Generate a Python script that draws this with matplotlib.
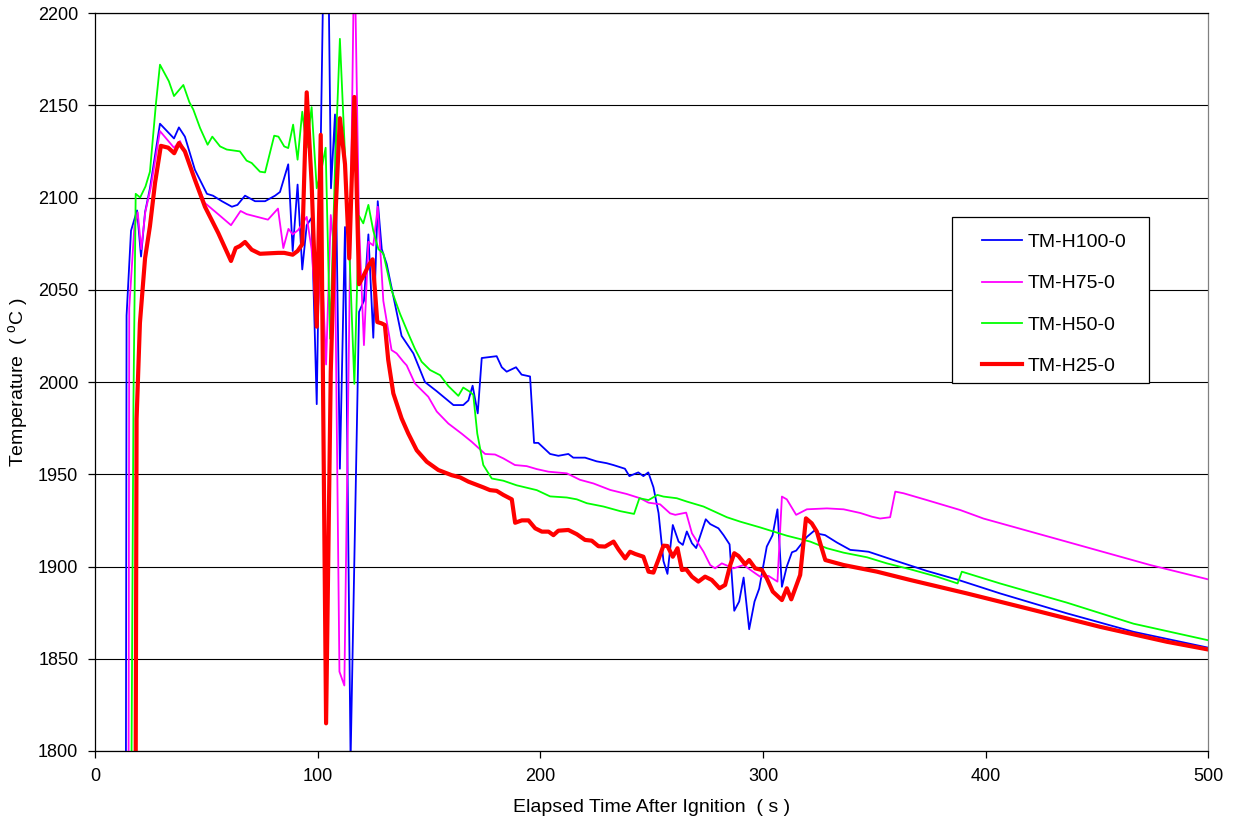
import matplotlib
matplotlib.use('Agg')
import matplotlib.pyplot as plt
from matplotlib.patches import Rectangle
from matplotlib.ticker import MultipleLocator

plt.rcParams['font.family'] = ['Liberation Sans', 'DejaVu Sans']
plt.rcParams['mathtext.fontset'] = 'custom'
plt.rcParams['mathtext.rm'] = 'Liberation Sans'

# Thermocouple readings, time in s and temperature in degC
t_h100 = [13.8, 14.2, 16.2, 18.9, 20.7, 22.5, 24.7, 29.2, 35.5, 37.7, 40.4, 44.9, 50.3, 53, 57,
          61.5, 64, 67.4, 71.9, 76.4, 80.9, 83.1, 86.8, 88.8, 91, 93.1, 95.1, 97.3, 99.6, 103.9,
          106, 107.8, 110, 112.3, 114.8, 118.6, 120.8, 122.8, 125, 127, 128.8, 131, 137.7, 143,
          148.2, 153.5, 161, 165.4, 167.7, 169.6, 171.9, 173.7, 180.4, 182.7, 184.9, 189.1, 191.6,
          195.4, 197.2, 199.1, 204.4, 208.1, 212.6, 214.8, 220.1, 225.3, 229.8, 232.8, 238, 240,
          244, 246.3, 248.5, 250.8, 253.1, 255.3, 257.1, 259.5, 262.1, 264, 265.8, 268.1, 270,
          274.3, 276.3, 280, 282.3, 285, 287.1, 289.3, 291.3, 293.8, 296.2, 298.3, 301.7, 304.3,
          306.5, 308.5, 310.7, 313, 314.9, 319.7, 323, 325.4, 327.9, 333.2, 339.2, 342.9, 347.4,
          358.6, 373.6, 387.8, 406.5, 436.5, 466.4, 500]
T_h100 = [1700, 2036, 2082, 2093, 2068, 2092, 2105, 2140, 2132, 2138, 2133, 2115, 2102, 2101, 2098,
          2095, 2096, 2101, 2098, 2098, 2101, 2103, 2118, 2071, 2107, 2061, 2085, 2089, 1988, 2325,
          2105, 2145, 1953, 2084, 1795, 2038, 2044, 2080, 2024, 2098, 2072, 2064, 2025, 2015.5,
          2000, 1995, 1987.5, 1987.5, 1990, 1998, 1983, 2013, 2014, 2008, 2005.6, 2008, 2004,
          2003, 1967, 1967, 1961, 1960, 1961, 1959, 1959, 1957, 1956, 1955, 1953, 1949,
          1951, 1949, 1951, 1943, 1929, 1903, 1896, 1922.5, 1913.5, 1911.7, 1919, 1912.6, 1910,
          1925.6, 1923, 1920.7, 1917, 1912, 1876, 1881, 1894, 1866, 1881, 1888, 1910.8, 1917,
          1931, 1889, 1900, 1907.7, 1908.6, 1916, 1919.4, 1917.6, 1917, 1913, 1909, 1908.6, 1908,
          1903.5, 1897.6, 1892.7, 1885.4, 1874.6, 1864.6, 1856]

t_h75 = [15.0, 15.4, 17.7, 19.2, 20.8, 22.6, 25, 29.2, 35.5, 38.2, 43.4, 49.4, 55.3, 61.1, 65.4,
         68.1, 77.7, 82.2, 84.6, 86.9, 88.8, 91.3, 95.1, 97.3, 99.6, 101.8, 103.8, 105.9, 107.8,
         109.8, 112, 116.5, 118.6, 120.8, 122.8, 125, 127, 129.5, 133.2, 135.5, 138.5, 140,
         143.7, 146.7, 149.7, 153.5, 158.7, 164.7, 169.2, 175.2, 179.7, 183.4, 188.6, 193.9,
         198.4, 203.6, 211.9, 217.8, 223.9, 231.4, 238.8, 244.8, 248.6, 253.8, 258.3, 260.6,
         265.5, 268.1, 273.3, 276.3, 278.5, 281.5, 286.8, 291.3, 295.7, 298.7, 302.5, 306.5,
         308.5, 310.7, 314.9, 319.7, 328.7, 336.2, 343.7, 348.9, 352.6, 357.1, 359.4, 363.1,
         373.6, 388.6, 399, 436.5, 473.9, 500]
T_h75 = [1700, 2040, 2084, 2092, 2072, 2092, 2105, 2136, 2127, 2130.6, 2115, 2097, 2091, 2085, 2092.7,
         2091, 2088, 2094, 2072.6, 2083, 2080, 2082.4, 2089.5, 2072, 2031, 2067, 2009.5, 2090.5, 2067,
         1843, 1835.5, 2240, 2085, 2020, 2076, 2074, 2095, 2044, 2017.3, 2015.5, 2011, 2009,
         1999.2, 1995.6, 1992, 1984, 1977.5, 1972, 1967.6, 1961, 1960.7, 1958.6, 1955, 1954.4,
         1952.8, 1951.4, 1950.5, 1947, 1945, 1941.5, 1939.3, 1937, 1934.6, 1933.7, 1928.8, 1928,
         1929.2, 1918, 1908, 1900.8, 1899, 1901.7, 1899, 1900.8, 1897, 1894.5, 1894.9, 1891.8,
         1937.9, 1936.4, 1928, 1931, 1931.5, 1931, 1929, 1927, 1926, 1926.7, 1940.6, 1939.7,
         1936, 1930.6, 1926, 1913.4, 1900.8, 1893]

t_h50 = [16.0, 17.3, 18.3, 20.3, 22.7, 24.7, 27.4, 29.2, 33.2, 35.5, 39.7, 42.4, 44.2, 47.2, 50.6,
         52.7, 56.2, 59.2, 65.1, 68.1, 70.4, 74.1, 76.4, 80.5, 82.4, 85, 86.8, 89, 91, 93.1, 95.1,
         97.3, 99.6, 101.8, 103.6, 105.6, 107.8, 110, 112.3, 114.5, 116.5, 118.6, 120.5, 122.8,
         125, 127.3, 129.5, 133.2, 137, 140.7, 143.7, 146.7, 150.5, 155, 158.7, 163.2, 165.4,
         168.4, 169.9, 171.7, 174.4, 178.2, 183.4, 189.4, 198.4, 204.4, 211.9, 216.4, 220.9,
         228.4, 235.9, 242.1, 244.5, 248.6, 252.6, 255.3, 261.3, 265.8, 273.3, 283.8, 289.8,
         298.7, 310.7, 321.2, 328.7, 336.2, 346.7, 355.6, 366.1, 378.1, 387.4, 389.3, 406.5,
         436.5, 466.4, 500]
T_h50 = [1700, 1990, 2102, 2100, 2106, 2114, 2151, 2172, 2163, 2155, 2161, 2151.7, 2147.6, 2137.7, 2128.6,
         2133, 2127.7, 2126, 2125, 2120, 2118.7, 2114, 2113.6, 2133.5, 2133, 2127.7, 2126.8, 2139.5,
         2120.5, 2146.5, 2127, 2149, 2105, 2115.6, 2127, 2023.5, 2115.6, 2186, 2123, 2063, 1999,
         2090, 2086, 2096, 2082, 2072, 2069.7, 2049.8, 2037, 2026.3, 2018, 2011, 2006.5, 2003.7,
         1997.8, 1992.5, 1997, 1994.7, 1993, 1972, 1955, 1947.7, 1946.5, 1944, 1941.4, 1938,
         1937.4, 1936.4, 1934.3, 1932.5, 1930, 1928.5, 1937, 1936, 1938.8, 1937.9, 1937, 1935.2,
         1932.5, 1926.7, 1924.3, 1921.2, 1916.7, 1913.5, 1909.9, 1907.5, 1905, 1901.7, 1898.5,
         1894.5, 1890.8, 1897.2, 1890.8, 1880.4, 1869, 1860]

t_h25 = [18.1, 18.7, 20.2, 22.5, 24.7, 27, 29.6, 32.9, 35.6, 37.7, 40.4, 44.9, 49.4, 55.4, 61.1,
         63.2, 65.1, 67.4, 70.4, 74.1, 82.3, 85, 88.8, 91, 93.1, 95.1, 97.3, 99.6, 101.4, 103.8,
         105.9, 107.8, 110, 112.3, 114.2, 116.5, 118.6, 120.8, 122.8, 124.7, 126.8, 128.7, 130.2,
         131.7, 134, 137.7, 140.7, 144.5, 149, 154.2, 160.2, 164, 167.7, 174.4, 177.4, 180.4,
         183.4, 187.2, 188.7, 191.7, 194.7, 197.7, 200.7, 203.7, 205.9, 208.1, 212.6, 216.4,
         220.1, 223.1, 226.1, 229.1, 232.9, 235.1, 238.1, 240.3, 242.6, 246.3, 248.6, 250.8,
         253.1, 255.3, 257.1, 259.5, 261.6, 263.6, 265.5, 268.1, 271, 274, 277, 280.5, 283,
         285.3, 287.1, 289, 292, 293.8, 296.5, 299.5, 301.7, 304.4, 308.5, 310.7, 312.7, 316.7,
         319.3, 321.9, 324.2, 325.7, 328, 336.2, 351.2, 366.1, 391.6, 421.5, 451.4, 481.4, 500]
T_h25 = [1700, 1980, 2032, 2067, 2084.5, 2108, 2128, 2127, 2124, 2129.5, 2125, 2109.6, 2095, 2080.7, 2065.6,
         2072.6, 2073.7, 2075.9, 2071.7, 2069.5, 2070, 2070, 2069, 2071, 2074.7, 2157, 2108, 2030,
         2134, 1815, 2005.6, 2085, 2143, 2118, 2067, 2154.5, 2053, 2058, 2063, 2066.5, 2032.5,
         2031.8, 2030.9, 2012, 1993.8, 1980.3, 1972.1, 1963, 1956.8, 1952.3, 1949.5, 1948.3, 1946,
         1942.9, 1941.4, 1941, 1938.8, 1936.4, 1923.7, 1925, 1925, 1920.7, 1918.9, 1918.9, 1917,
         1919.4, 1919.8, 1917.5, 1914.4, 1914, 1911, 1910.8, 1913.5, 1909.3, 1904.4, 1908, 1906.8,
         1905.3, 1897.2, 1896.7, 1903.9, 1911.3, 1911.1, 1905.3, 1909.9, 1898.1, 1898.5, 1894.5,
         1891.8, 1894.5, 1892.7, 1888.2, 1890, 1900.8, 1907.2, 1905.7, 1901.2, 1903.5, 1899,
         1898.1, 1893.6, 1886.4, 1881.8, 1888.2, 1882.2, 1895.4, 1926.1, 1923.4, 1918.9, 1912.6,
         1903.5, 1900.8, 1897.2, 1892.7, 1885.4, 1876.4, 1867.3, 1859.2, 1855]

fig = plt.figure(figsize=(12.33, 8.24), dpi=100)
ax = fig.add_axes([0.077, 0.0886, 0.903, 0.8956])

ax.plot(t_h100, T_h100, color='#0000FF', lw=1.3, label='TM-H100-0')
ax.plot(t_h75, T_h75, color='#FF00FF', lw=1.3, label='TM-H75-0')
ax.plot(t_h50, T_h50, color='#00FF00', lw=1.3, label='TM-H50-0')
ax.plot(t_h25, T_h25, color='#FF0000', lw=3.0, label='TM-H25-0')

ax.set_xlim(0, 500)
ax.set_ylim(1800, 2200)
ax.xaxis.set_major_locator(MultipleLocator(100))
ax.yaxis.set_major_locator(MultipleLocator(50))
ax.yaxis.grid(True, color='black', lw=0.8)
ax.set_axisbelow(True)

for side in ['left', 'bottom', 'top']:
    ax.spines[side].set_color('black')
    ax.spines[side].set_linewidth(0.9)
ax.spines['right'].set_color('#808080')
ax.spines['right'].set_linewidth(0.9)

ax.tick_params(axis='both', direction='out', length=5, width=0.9, labelsize=13, pad=7)

ax.set_xlabel('Elapsed Time After Ignition  ( s )', fontsize=14, labelpad=10)
ax.set_ylabel(r'Temperature  ( $^{\mathrm{o}}$C )', fontsize=14, labelpad=5)

# legend box drawn separately so the padding is wider than the text needs
ax.add_patch(Rectangle((0.770, 0.4986), 0.177, 0.225, transform=ax.transAxes,
                       facecolor='white', edgecolor='black', lw=0.9, zorder=5))
leg = ax.legend(loc='upper left', bbox_to_anchor=(0.797, 0.701), frameon=False,
                fontsize=14, borderpad=0, borderaxespad=0, labelspacing=1.21,
                handlelength=2.05, handletextpad=0.3)
leg.set_zorder(6)

fig.savefig('out.png', dpi=100)
